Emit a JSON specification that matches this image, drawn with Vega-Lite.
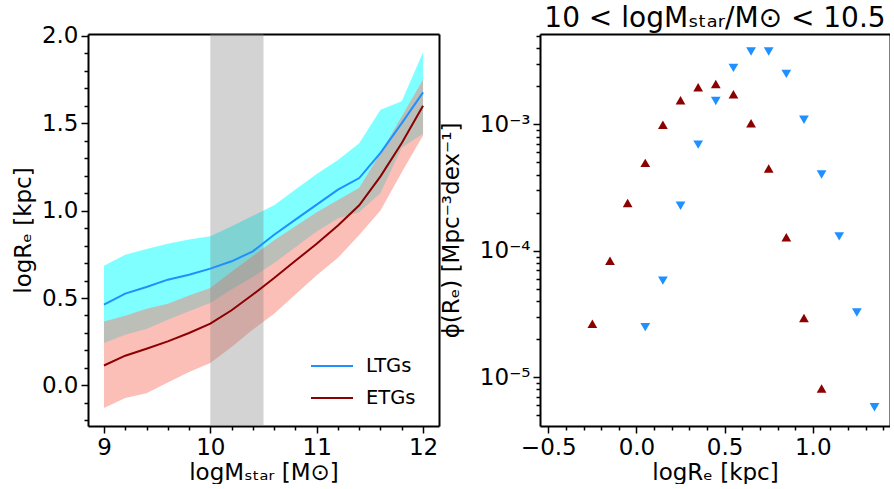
{
  "$schema": "https://vega.github.io/schema/vega-lite/v6.json",
  "padding": {"left": 12, "top": 4, "right": 0, "bottom": 0},
  "spacing": 1,
  "config": {
    "font": "DejaVu Sans",
    "view": {"stroke": null},
    "axis": {"labelFont": "DejaVu Sans", "titleFont": "DejaVu Sans", "labelFontSize": 23, "titleFontSize": 23, "labelColor": "black", "titleColor": "black", "tickColor": "black", "tickWidth": 1.5, "tickSize": 7, "domain": true, "domainColor": "black", "domainWidth": 2, "grid": false, "titleFontWeight": "normal", "labelPadding": 3, "labelOverlap": false},
    "title": {"font": "DejaVu Sans", "fontWeight": "normal", "fontSize": 28, "offset": -8, "color": "black"}
  },
  "resolve": {"scale": {"color": "independent", "shape": "independent"}, "legend": {"color": "independent", "shape": "independent"}},
  "datasets": {
    "bands": [
      {"type": "LTGs", "m": 9.0, "med": 0.462, "lo": 0.243, "hi": 0.685},
      {"type": "LTGs", "m": 9.2, "med": 0.525, "lo": 0.290, "hi": 0.748},
      {"type": "LTGs", "m": 9.4, "med": 0.563, "lo": 0.323, "hi": 0.781},
      {"type": "LTGs", "m": 9.6, "med": 0.605, "lo": 0.376, "hi": 0.810},
      {"type": "LTGs", "m": 9.8, "med": 0.633, "lo": 0.424, "hi": 0.834},
      {"type": "LTGs", "m": 10.0, "med": 0.668, "lo": 0.471, "hi": 0.853},
      {"type": "LTGs", "m": 10.2, "med": 0.710, "lo": 0.550, "hi": 0.910},
      {"type": "LTGs", "m": 10.4, "med": 0.767, "lo": 0.620, "hi": 0.970},
      {"type": "LTGs", "m": 10.6, "med": 0.862, "lo": 0.700, "hi": 1.030},
      {"type": "LTGs", "m": 10.8, "med": 0.948, "lo": 0.790, "hi": 1.120},
      {"type": "LTGs", "m": 11.0, "med": 1.034, "lo": 0.880, "hi": 1.210},
      {"type": "LTGs", "m": 11.2, "med": 1.120, "lo": 0.955, "hi": 1.290},
      {"type": "LTGs", "m": 11.4, "med": 1.186, "lo": 0.990, "hi": 1.385},
      {"type": "LTGs", "m": 11.6, "med": 1.330, "lo": 1.100, "hi": 1.577},
      {"type": "LTGs", "m": 11.8, "med": 1.500, "lo": 1.360, "hi": 1.625},
      {"type": "LTGs", "m": 12.0, "med": 1.676, "lo": 1.440, "hi": 1.905},
      {"type": "ETGs", "m": 9.0, "med": 0.114, "lo": -0.129, "hi": 0.366},
      {"type": "ETGs", "m": 9.2, "med": 0.170, "lo": -0.072, "hi": 0.399},
      {"type": "ETGs", "m": 9.4, "med": 0.210, "lo": -0.044, "hi": 0.439},
      {"type": "ETGs", "m": 9.6, "med": 0.252, "lo": 0.017, "hi": 0.467},
      {"type": "ETGs", "m": 9.8, "med": 0.300, "lo": 0.077, "hi": 0.515},
      {"type": "ETGs", "m": 10.0, "med": 0.353, "lo": 0.128, "hi": 0.557},
      {"type": "ETGs", "m": 10.2, "med": 0.430, "lo": 0.220, "hi": 0.650},
      {"type": "ETGs", "m": 10.4, "med": 0.520, "lo": 0.320, "hi": 0.740},
      {"type": "ETGs", "m": 10.6, "med": 0.614, "lo": 0.410, "hi": 0.830},
      {"type": "ETGs", "m": 10.8, "med": 0.713, "lo": 0.520, "hi": 0.910},
      {"type": "ETGs", "m": 11.0, "med": 0.810, "lo": 0.630, "hi": 0.990},
      {"type": "ETGs", "m": 11.2, "med": 0.915, "lo": 0.730, "hi": 1.060},
      {"type": "ETGs", "m": 11.4, "med": 1.030, "lo": 0.860, "hi": 1.130},
      {"type": "ETGs", "m": 11.6, "med": 1.196, "lo": 1.000, "hi": 1.330},
      {"type": "ETGs", "m": 11.8, "med": 1.387, "lo": 1.220, "hi": 1.540},
      {"type": "ETGs", "m": 12.0, "med": 1.600, "lo": 1.430, "hi": 1.750}
    ],
    "span": [{"a": 10.0, "b": 10.5}],
    "pts": [
      {"type": "ETGs", "r": -0.25, "phi": 2.65e-5},
      {"type": "ETGs", "r": -0.15, "phi": 8.35e-5},
      {"type": "ETGs", "r": -0.05, "phi": 2.39e-4},
      {"type": "ETGs", "r": 0.05, "phi": 4.96e-4},
      {"type": "ETGs", "r": 0.15, "phi": 9.95e-4},
      {"type": "ETGs", "r": 0.25, "phi": 1.55e-3},
      {"type": "ETGs", "r": 0.35, "phi": 1.97e-3},
      {"type": "ETGs", "r": 0.45, "phi": 2.09e-3},
      {"type": "ETGs", "r": 0.55, "phi": 1.73e-3},
      {"type": "ETGs", "r": 0.65, "phi": 1.02e-3},
      {"type": "ETGs", "r": 0.75, "phi": 4.48e-4},
      {"type": "ETGs", "r": 0.85, "phi": 1.28e-4},
      {"type": "ETGs", "r": 0.95, "phi": 2.94e-5},
      {"type": "ETGs", "r": 1.05, "phi": 8.13e-6},
      {"type": "LTGs", "r": 0.05, "phi": 2.49e-5},
      {"type": "LTGs", "r": 0.15, "phi": 5.81e-5},
      {"type": "LTGs", "r": 0.25, "phi": 2.27e-4},
      {"type": "LTGs", "r": 0.35, "phi": 6.92e-4},
      {"type": "LTGs", "r": 0.45, "phi": 1.53e-3},
      {"type": "LTGs", "r": 0.55, "phi": 2.80e-3},
      {"type": "LTGs", "r": 0.65, "phi": 3.77e-3},
      {"type": "LTGs", "r": 0.75, "phi": 3.77e-3},
      {"type": "LTGs", "r": 0.85, "phi": 2.51e-3},
      {"type": "LTGs", "r": 0.95, "phi": 1.09e-3},
      {"type": "LTGs", "r": 1.05, "phi": 4.01e-4},
      {"type": "LTGs", "r": 1.15, "phi": 1.30e-4},
      {"type": "LTGs", "r": 1.25, "phi": 3.25e-5},
      {"type": "LTGs", "r": 1.35, "phi": 5.79e-6}
    ]
  },
  "hconcat": [
    {
      "width": 351,
      "height": 392,
      "title": {"text": "10 < logMₛₜₐᵣ/M⊙ < 10.5", "color": "transparent"},
      "resolve": {"axis": {"x": "independent", "y": "independent"}},
      "layer": [
        {
          "data": {"name": "bands"},
          "transform": [{"filter": "datum.type === 'LTGs'"}],
          "mark": {"type": "area", "color": "#00ffff", "opacity": 0.5},
          "encoding": {
            "x": {"field": "m", "type": "quantitative", "scale": {"domain": [8.85, 12.15], "nice": false, "zero": false},
                  "axis": {"orient": "bottom", "values": [9, 9.2, 9.4, 9.6, 9.8, 10, 10.2, 10.4, 10.6, 10.8, 11, 11.2, 11.4, 11.6, 11.8, 12],
                           "labelExpr": "abs(datum.value - round(datum.value)) < 0.01 ? format(datum.value, 'd') : ''",
                           "tickSize": {"condition": {"test": "abs(datum.value - round(datum.value)) < 0.01", "value": 7}, "value": 4},
                           "title": "logMₛₜₐᵣ [M⊙]", "titlePadding": 2}},
            "y": {"field": "lo", "type": "quantitative", "scale": {"domain": [-0.232, 2.01], "nice": false, "zero": false},
                  "axis": {"orient": "left", "values": [-0.2, -0.1, 0, 0.1, 0.2, 0.3, 0.4, 0.5, 0.6, 0.7, 0.8, 0.9, 1, 1.1, 1.2, 1.3, 1.4, 1.5, 1.6, 1.7, 1.8, 1.9, 2],
                           "labelExpr": "abs(datum.value*2 - round(datum.value*2)) < 0.01 ? format(datum.value, '.1f') : ''",
                           "tickSize": {"condition": {"test": "abs(datum.value*2 - round(datum.value*2)) < 0.01", "value": 7}, "value": 4},
                           "title": "logRₑ [kpc]", "titlePadding": 6}},
            "y2": {"field": "hi"}
          }
        },
        {
          "data": {"name": "bands"},
          "transform": [{"filter": "datum.type === 'ETGs'"}],
          "mark": {"type": "area", "color": "#fa8072", "opacity": 0.5},
          "encoding": {
            "x": {"field": "m", "type": "quantitative", "scale": {"domain": [8.85, 12.15], "nice": false, "zero": false},
                  "axis": {"orient": "top", "ticks": false, "labels": false, "title": null}},
            "y": {"field": "lo", "type": "quantitative", "scale": {"domain": [-0.232, 2.01], "nice": false, "zero": false},
                  "axis": {"orient": "right", "ticks": false, "labels": false, "title": null}},
            "y2": {"field": "hi"}
          }
        },
        {
          "data": {"name": "span"},
          "mark": {"type": "rect", "color": "#808080", "opacity": 0.35},
          "encoding": {
            "x": {"field": "a", "type": "quantitative", "axis": null},
            "x2": {"field": "b"}
          }
        },
        {
          "data": {"name": "bands"},
          "mark": {"type": "line", "strokeWidth": 2},
          "encoding": {
            "x": {"field": "m", "type": "quantitative", "axis": null},
            "y": {"field": "med", "type": "quantitative", "axis": null},
            "color": {"field": "type", "type": "nominal", "sort": null,
                      "scale": {"domain": ["LTGs", "ETGs"], "range": ["#1e90ff", "#8b0000"]},
                      "legend": {"orient": "none", "legendX": 222, "legendY": 310, "title": null, "symbolType": "stroke", "symbolSize": 1764, "symbolStrokeWidth": 2, "labelFontSize": 19.5, "labelFont": "DejaVu Sans", "labelColor": "black", "rowPadding": -2, "labelOffset": 12}}
          }
        }
      ]
    },
    {
      "width": 350,
      "height": 392,
      "title": {"text": "10 < logMₛₜₐᵣ/M⊙ < 10.5"},
      "resolve": {"axis": {"x": "independent", "y": "independent"}},
      "layer": [
        {
          "data": {"name": "pts"},
          "mark": {"type": "point", "filled": true, "size": 95, "opacity": 1},
          "encoding": {
            "x": {"field": "r", "type": "quantitative", "scale": {"domain": [-0.547, 1.438], "nice": false, "zero": false},
                  "axis": {"orient": "bottom", "values": [-0.5, -0.4, -0.3, -0.2, -0.1, 0, 0.1, 0.2, 0.3, 0.4, 0.5, 0.6, 0.7, 0.8, 0.9, 1, 1.1, 1.2, 1.3, 1.4],
                           "labelExpr": "abs(datum.value*2 - round(datum.value*2)) < 0.01 ? format(datum.value, '.1f') : ''",
                           "tickSize": {"condition": {"test": "abs(datum.value*2 - round(datum.value*2)) < 0.01", "value": 7}, "value": 4},
                           "title": "logRₑ [kpc]", "titlePadding": 2}},
            "y": {"field": "phi", "type": "quantitative", "scale": {"type": "log", "domain": [4.11e-6, 5.19e-3], "nice": false},
                  "axis": {"orient": "left", "values": [5e-6, 6e-6, 7e-6, 8e-6, 9e-6, 1e-5, 2e-5, 3e-5, 4e-5, 5e-5, 6e-5, 7e-5, 8e-5, 9e-5, 1e-4, 2e-4, 3e-4, 4e-4, 5e-4, 6e-4, 7e-4, 8e-4, 9e-4, 1e-3, 2e-3, 3e-3, 4e-3, 5e-3],
                           "labelExpr": "abs(log(datum.value)/LN10 - round(log(datum.value)/LN10)) < 0.01 ? (round(log(datum.value)/LN10) == -5 ? '10⁻⁵' : round(log(datum.value)/LN10) == -4 ? '10⁻⁴' : '10⁻³') : ''",
                           "tickSize": {"condition": {"test": "abs(log(datum.value)/LN10 - round(log(datum.value)/LN10)) < 0.01", "value": 7}, "value": 4},
                           "title": "ϕ(Rₑ) [Mpc⁻³dex⁻¹]", "titlePadding": 16}},
            "shape": {"field": "type", "type": "nominal", "scale": {"domain": ["LTGs", "ETGs"], "range": ["triangle-down", "triangle-up"]}, "legend": null},
            "color": {"field": "type", "type": "nominal", "scale": {"domain": ["LTGs", "ETGs"], "range": ["#1e90ff", "#8b0000"]}, "legend": null}
          }
        },
        {
          "data": {"name": "pts"},
          "mark": {"type": "point", "opacity": 0},
          "encoding": {
            "x": {"field": "r", "type": "quantitative", "scale": {"domain": [-0.547, 1.438], "nice": false, "zero": false},
                  "axis": {"orient": "top", "ticks": false, "labels": false, "title": null}},
            "y": {"field": "phi", "type": "quantitative", "scale": {"type": "log", "domain": [4.11e-6, 5.19e-3], "nice": false},
                  "axis": {"orient": "right", "ticks": false, "labels": false, "title": null}}
          }
        }
      ]
    }
  ]
}
